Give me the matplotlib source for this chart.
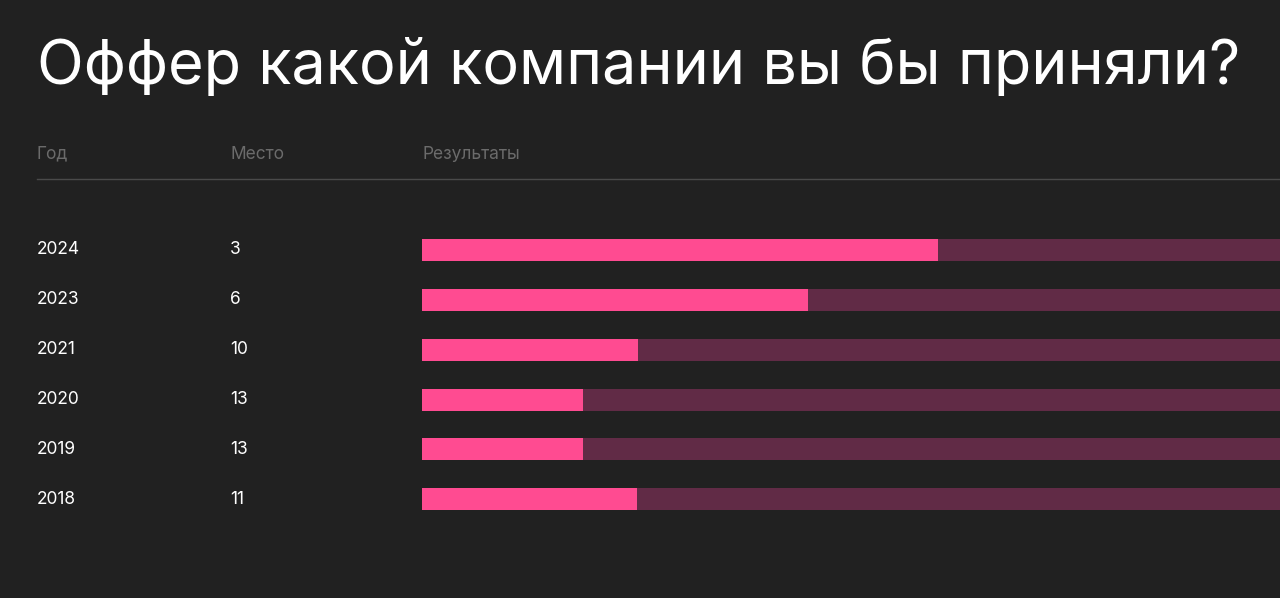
import matplotlib.pyplot as plt

# данные
years = ["2024", "2023", "2021", "2020", "2019", "2018"]
places = ["3", "6", "10", "13", "13", "11"]
results = [516, 386, 216, 161, 161, 215]  # длина розовой полосы
track_max = 858

bg = "#212121"
pink = "#FF4B91"
track = "#612B46"

plt.rcParams["font.family"] = ["Inter", "DejaVu Sans"]

W, H = 1280, 598
fig = plt.figure(figsize=(W / 100, H / 100), dpi=100, facecolor=bg)

fig.text(37 / W, 1 - 68 / H, "Оффер какой компании вы бы приняли?",
         color="white", fontsize=44, va="center", ha="left")

for x, s in [(37, "Год"), (230, "Место"), (422, "Результаты")]:
    fig.text(x / W, 1 - 154 / H, s, color="#6b6b6b", fontsize=12.5, va="center")
fig.add_artist(plt.Line2D([37 / W, 1], [1 - 179 / H] * 2, color="#4a4a4a", lw=1))

row_y = [250, 300, 350, 400, 449, 499]
for y, yr, pl in zip(row_y, years, places):
    fig.text(37 / W, 1 - y / H, yr, color="white", fontsize=12.5, va="center")
    fig.text(230 / W, 1 - y / H, pl, color="white", fontsize=12.5, va="center")

# полосы: ось в пикселях по вертикали
ax = fig.add_axes([422 / W, 0, 1 - 422 / W, 1])
ax.set_facecolor("none")
ax.set_xlim(0, track_max)
ax.set_ylim(H, 0)
ax.axis("off")
ax.barh(row_y, [track_max] * len(row_y), height=22, color=track)
ax.barh(row_y, results, height=22, color=pink)

fig.savefig("out.png", dpi=100, facecolor=bg)
